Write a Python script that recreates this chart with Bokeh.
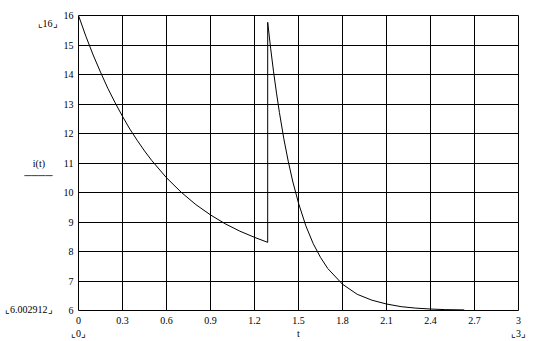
from bokeh.plotting import figure
from bokeh.models import FixedTicker, CustomJSTickFormatter, Range1d, LinearAxis
from bokeh.embed import file_html
from bokeh.resources import INLINE

# first branch of i(t)
t_first = [0.0, 0.05, 0.1, 0.15, 0.2, 0.25, 0.3, 0.35, 0.4, 0.45, 0.5, 0.6, 0.7, 0.8, 0.9, 1.0, 1.1, 1.2, 1.29]
i_first = [16.0, 15.30, 14.66, 14.08, 13.53, 13.04, 12.58, 12.15, 11.77, 11.41, 11.08, 10.50, 10.01, 9.59, 9.24, 8.94, 8.69, 8.48, 8.31]

# second branch of i(t) after the jump
t_second = [1.29, 1.31, 1.33, 1.35, 1.37, 1.40, 1.43, 1.46, 1.50, 1.55, 1.60, 1.65, 1.70, 1.80, 1.90, 2.00, 2.10, 2.20, 2.30, 2.40, 2.50, 2.63]
i_second = [15.77, 14.89, 14.09, 13.37, 12.71, 11.82, 11.06, 10.39, 9.64, 8.87, 8.27, 7.80, 7.42, 6.89, 6.55, 6.35, 6.22, 6.13, 6.08, 6.05, 6.03, 6.02]

x_ticks = [0, 0.3, 0.6, 0.9, 1.2, 1.5, 1.8, 2.1, 2.4, 2.7, 3]
y_ticks = [6, 7, 8, 9, 10, 11, 12, 13, 14, 15, 16]
x_limits = ["0", "3"]
y_limits = ["16", "6.002912"]
x_name = "t"
y_name = "i(t)"

FONT = "Liberation Serif"
FS = "10px"
NB = "\u00a0"
LB, RB = "\u231e", "\u231f"

p = figure(width=538, height=341, output_backend="svg", toolbar_location=None,
           x_range=Range1d(0, 3), y_range=Range1d(6, 16),
           min_border_left=78, min_border_right=20, min_border_top=15, min_border_bottom=30)
p.background_fill_color = "white"
p.border_fill_color = "white"
p.outline_line_color = "black"
p.outline_line_width = 1

p.line(t_first + t_second, i_first + i_second, line_color="black", line_width=1)


def style(ax, standoff):
    ax.axis_line_color = None
    ax.major_tick_line_color = None
    ax.minor_tick_line_color = None
    ax.major_tick_out = 0
    ax.major_tick_in = 0
    ax.minor_tick_out = 0
    ax.minor_tick_in = 0
    ax.major_label_text_font = FONT
    ax.major_label_text_font_size = FS
    ax.major_label_text_color = "black"
    ax.major_label_standoff = standoff


p.xaxis.ticker = FixedTicker(ticks=x_ticks)
p.yaxis.ticker = FixedTicker(ticks=y_ticks)
p.xaxis.formatter = CustomJSTickFormatter(code="return tick.toFixed(1).replace(/\\.0$/, '');")
p.yaxis.formatter = CustomJSTickFormatter(code="return tick.toFixed(0);")
style(p.xaxis[0], 6)
style(p.yaxis[0], 5)

p.xgrid.ticker = FixedTicker(ticks=x_ticks)
p.ygrid.ticker = FixedTicker(ticks=y_ticks)
for g in (p.xgrid[0], p.ygrid[0]):
    g.grid_line_color = "black"
    g.grid_line_alpha = 1.0
    g.grid_line_width = 1

PICK = ("let b = 0; for (let k = 0; k < pos.length; k++) "
        "{ if (Math.abs(pos[k] - tick) < Math.abs(pos[b] - tick)) b = k; } return texts[b];")

# limit markers, variable name and its underline, left of the y tick labels
left_pos = [15.72, 6.02, 10.97, 10.58]
left_txt = [LB + y_limits[0] + RB,
            LB + y_limits[1] + RB + NB * 2,
            y_name + NB * 5,
            "\u2500\u2500\u2500\u2500" + NB * 2]
ax_l = LinearAxis(ticker=FixedTicker(ticks=left_pos),
                  formatter=CustomJSTickFormatter(args=dict(pos=left_pos, texts=left_txt), code=PICK))
style(ax_l, 3)
p.add_layout(ax_l, "left")

# limit markers and variable name below the x tick labels
below_pos = [0, 1.5, 3]
below_txt = [LB + x_limits[0] + RB, x_name, LB + x_limits[1] + RB]
ax_b = LinearAxis(ticker=FixedTicker(ticks=below_pos),
                  formatter=CustomJSTickFormatter(args=dict(pos=below_pos, texts=below_txt), code=PICK))
style(ax_b, 1)
p.add_layout(ax_b, "below")

open("out.html", "w").write(file_html(p, INLINE))
